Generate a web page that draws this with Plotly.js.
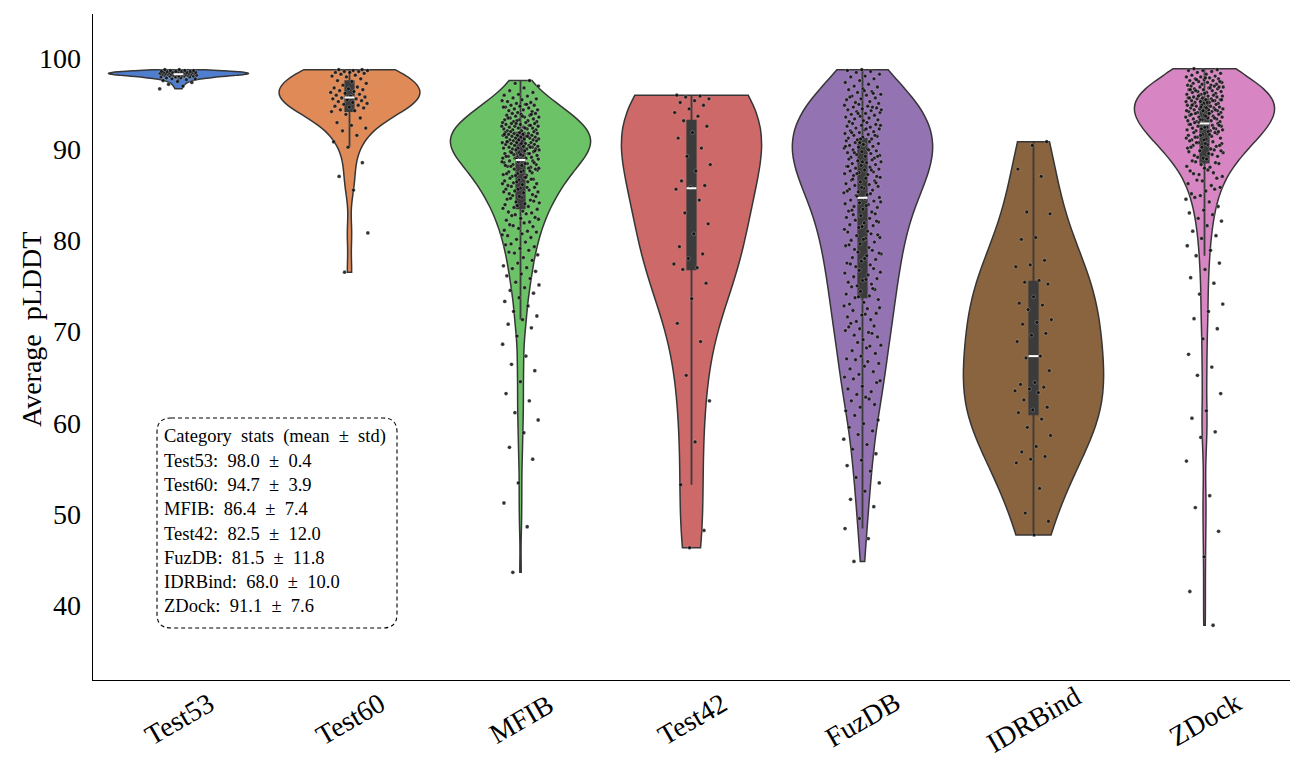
<!DOCTYPE html>
<html>
<head>
<meta charset="utf-8">
<script src="https://cdn.plot.ly/plotly-3.0.1.min.js"></script>
<style>html,body{margin:0;padding:0;background:#fff;}#chart{width:1292px;height:766px;}</style>
</head>
<body>
<div id="chart"></div>
<script>
// ---------------- DATA ----------------
const categories = ['Test53', 'Test60', 'MFIB', 'Test42', 'FuzDB', 'IDRBind', 'ZDock'];

const test53 = [96.6, 96.9, 97.1, 97.3, 97.4, 97.5, 97.6, 97.7, 97.7, 97.8, 97.8, 97.9, 97.9, 97.9,
  98.0, 98.0, 98.0, 98.0, 98.1, 98.1, 98.1, 98.1, 98.1, 98.2, 98.2, 98.2, 98.2, 98.2, 98.2,
  98.3, 98.3, 98.3, 98.3, 98.3, 98.3, 98.3, 98.4, 98.4, 98.4, 98.4, 98.4, 98.4, 98.4,
  98.5, 98.5, 98.5, 98.5, 98.5, 98.6, 98.6, 98.6, 98.7, 98.7];

const test60 = [76.5, 80.8, 85.5, 87.0, 88.5, 90.2, 90.8, 91.5, 92.0, 92.3, 92.6, 92.9, 93.4, 93.8, 94.1,
  94.2, 94.3, 94.5, 94.6, 94.7, 94.8, 94.9, 95.0, 95.1, 95.2, 95.3, 95.4, 95.5, 95.5, 95.6,
  95.7, 95.8, 95.9, 96.0, 96.1, 96.2, 96.3, 96.4, 96.5, 96.6, 96.7, 96.8, 97.0, 97.2, 97.4,
  97.5, 97.7, 97.9, 98.0, 98.1, 98.2, 98.3, 98.4, 98.4, 98.5, 98.5, 98.6, 98.6, 98.7, 98.7];

const mfib = [97.5, 97.2, 96.9, 96.7, 96.4, 96.2, 96.0,
  95.9, 95.8, 95.6, 95.5, 95.4, 95.2, 95.1, 95.0, 95.3,
  94.9, 94.8, 94.8, 94.7, 94.6, 94.5, 94.4, 94.3, 94.3, 94.2, 94.1, 94.0, 94.6, 94.9,
  93.9, 93.9, 93.8, 93.7, 93.7, 93.6, 93.5, 93.5, 93.4, 93.3, 93.2, 93.2, 93.1, 93.0, 93.0, 93.6, 93.4, 93.8, 93.1,
  92.9, 92.9, 92.8, 92.8, 92.7, 92.7, 92.6, 92.5, 92.5, 92.4, 92.4, 92.3, 92.3, 92.2, 92.2, 92.1, 92.1, 92.0, 92.0, 92.6, 92.8, 92.5, 92.3,
  91.9, 91.9, 91.8, 91.8, 91.7, 91.7, 91.7, 91.6, 91.6, 91.5, 91.5, 91.5, 91.4, 91.4, 91.3, 91.3, 91.3, 91.2, 91.2, 91.1, 91.1, 91.0, 91.0, 91.0, 91.6, 91.4,
  90.9, 90.9, 90.8, 90.8, 90.7, 90.7, 90.7, 90.6, 90.6, 90.5, 90.5, 90.5, 90.4, 90.4, 90.3, 90.3, 90.2, 90.2, 90.1, 90.1, 90.0, 90.0, 90.0, 90.6, 90.8, 90.2,
  89.9, 89.9, 89.8, 89.7, 89.7, 89.6, 89.5, 89.5, 89.4, 89.3, 89.3, 89.2, 89.1, 89.1, 89.0, 89.0, 89.6, 89.8, 89.4, 89.2, 89.5, 89.0,
  88.9, 88.8, 88.7, 88.7, 88.6, 88.5, 88.4, 88.3, 88.3, 88.2, 88.1, 88.0, 88.9, 88.6, 88.4, 88.1, 88.5, 88.8, 88.2,
  87.9, 87.8, 87.7, 87.6, 87.5, 87.4, 87.3, 87.2, 87.1, 87.0, 87.8, 87.5, 87.3, 87.6, 87.1, 87.9,
  86.9, 86.8, 86.7, 86.6, 86.5, 86.4, 86.3, 86.2, 86.1, 86.0, 86.7, 86.4, 86.2, 86.9,
  85.9, 85.8, 85.7, 85.6, 85.5, 85.4, 85.3, 85.2, 85.1, 85.0, 85.6, 85.3, 85.8,
  84.9, 84.8, 84.7, 84.5, 84.4, 84.2, 84.1, 84.0, 84.6, 84.3, 84.8,
  83.9, 83.7, 83.6, 83.4, 83.2, 83.1, 83.0, 83.8, 83.5,
  82.9, 82.7, 82.5, 82.4, 82.2, 82.0, 82.8, 82.3,
  81.9, 81.7, 81.5, 81.3, 81.1, 81.0, 81.6,
  80.9, 80.7, 80.5, 80.3, 80.1, 80.6,
  79.8, 79.6, 79.3, 79.1, 79.5,
  78.9, 78.6, 78.4, 78.1, 78.7,
  77.8, 77.5, 77.2, 77.0,
  76.9, 76.6, 76.3, 76.1,
  75.8, 75.4, 75.1,
  74.8, 74.5, 74.2,
  73.7, 73.3, 72.8, 72.2, 71.7, 71.3, 70.8, 70.4,
  69.5, 68.6, 67.3, 66.4, 65.7,
  64.5, 63.2, 62.4, 61.1, 60.3,
  58.9, 57.3, 56.0, 53.4, 51.2, 48.6, 43.6];

const test42 = [95.9, 95.8, 95.7, 95.5, 95.3, 95.1, 94.8, 94.4, 94.0, 93.6,
  93.1, 92.5, 91.8, 91.2, 90.1, 89.2, 88.3, 87.6, 86.5, 86.0,
  85.8, 85.6, 84.4, 83.0, 81.8, 80.7, 79.3, 78.5, 78.0, 77.4,
  77.0, 76.8, 75.3, 73.6, 70.9, 68.9, 65.2, 62.4, 57.9, 53.2, 48.2, 46.3];

const fuzdb = [98.7, 98.6, 98.5, 98.4, 98.2, 98.0, 97.9, 97.7, 97.5, 97.3, 97.1,
  96.9, 96.8, 96.6, 96.5, 96.3, 96.2, 96.0, 95.9, 95.8, 95.6, 95.5, 95.4, 95.2, 95.1, 95.0, 96.4, 95.7, 96.1,
  94.9, 94.8, 94.7, 94.6, 94.5, 94.4, 94.3, 94.2, 94.1, 94.0, 93.9, 93.8, 93.7, 93.6, 93.5, 93.4, 93.3, 93.2, 93.1, 93.0, 94.6, 93.9, 94.3,
  92.9, 92.8, 92.7, 92.6, 92.5, 92.4, 92.3, 92.2, 92.1, 92.0, 91.9, 91.8, 91.7, 91.6, 91.5, 91.4, 91.3, 91.2, 91.1, 91.0, 92.6, 92.2, 91.8, 91.5, 91.1,
  90.9, 90.8, 90.7, 90.6, 90.5, 90.4, 90.3, 90.2, 90.1, 90.0, 89.9, 89.8, 89.7, 89.6, 89.5, 89.4, 89.3, 89.2, 89.1, 89.0, 90.7, 90.3, 89.9, 89.6, 89.2, 90.5,
  88.9, 88.8, 88.7, 88.6, 88.5, 88.4, 88.3, 88.2, 88.1, 88.0, 87.9, 87.8, 87.7, 87.6, 87.5, 87.4, 87.3, 87.2, 87.1, 87.0, 88.6, 88.1, 87.7, 87.3,
  86.9, 86.8, 86.6, 86.5, 86.4, 86.2, 86.1, 86.0, 85.9, 85.7, 85.6, 85.5, 85.3, 85.2, 85.0, 86.7, 86.3, 85.8, 85.4, 85.1,
  84.9, 84.7, 84.6, 84.4, 84.3, 84.1, 84.0, 83.9, 83.7, 83.6, 83.4, 83.2, 83.1, 84.8, 84.2, 83.8, 83.3,
  82.9, 82.7, 82.5, 82.4, 82.2, 82.0, 81.9, 81.7, 81.6, 81.4, 81.2, 81.0, 82.8, 82.1, 81.5,
  80.9, 80.7, 80.5, 80.3, 80.2, 80.0, 79.8, 79.6, 79.4, 79.2, 79.0, 80.6, 80.1, 79.5,
  78.9, 78.7, 78.5, 78.3, 78.1, 77.9, 77.7, 77.5, 77.3, 77.1, 78.6, 78.0, 77.4,
  76.9, 76.7, 76.4, 76.2, 76.0, 75.8, 75.6, 75.4, 75.2, 75.0, 76.5, 75.7,
  74.9, 74.6, 74.4, 74.1, 73.9, 73.7, 73.5, 73.2, 73.0, 74.7, 73.8,
  72.8, 72.5, 72.3, 72.0, 71.8, 71.6, 71.3, 71.1, 72.6, 71.9,
  70.9, 70.6, 70.3, 70.1, 69.9, 69.6, 69.4, 69.1, 70.5, 69.8,
  68.8, 68.5, 68.2, 67.9, 67.6, 67.3, 67.0, 68.4,
  66.9, 66.5, 66.2, 65.9, 65.6, 65.3, 65.0, 66.7,
  64.8, 64.4, 64.0, 63.7, 63.4, 63.1, 64.6,
  62.8, 62.4, 62.0, 61.7, 61.3, 62.6,
  60.8, 60.3, 59.9, 59.5, 59.1,
  58.7, 58.2, 57.6, 57.1, 56.6, 55.9, 55.3,
  54.7, 54.0, 53.4, 52.5, 51.6, 50.8, 49.5, 48.4, 47.3, 44.8];

const idrbind = [90.8, 90.4, 87.8, 87.0, 83.1, 82.9, 80.3, 80.1, 77.8, 77.3,
  77.1, 75.6, 75.4, 75.2, 73.8, 73.1, 72.9, 72.4, 71.3, 71.0,
  70.8, 69.8, 69.6, 68.9, 67.3, 67.1, 65.7, 64.4, 64.2, 63.9,
  63.7, 63.5, 63.3, 62.5, 61.7, 61.4, 61.1, 60.4, 59.5, 58.6,
  57.4, 56.8, 56.3, 56.0, 55.6, 52.8, 50.1, 49.2, 47.7];

const zdock = [98.8, 98.7, 98.6, 98.6, 98.5, 98.4, 98.3, 98.2, 98.1, 98.0,
  97.9, 97.9, 97.8, 97.7, 97.7, 97.6, 97.5, 97.5, 97.4, 97.3, 97.3, 97.2, 97.1, 97.1, 97.0, 97.0, 97.6, 97.4, 97.8,
  96.9, 96.9, 96.8, 96.8, 96.7, 96.6, 96.6, 96.5, 96.5, 96.4, 96.3, 96.3, 96.2, 96.2, 96.1, 96.0, 96.0, 96.7, 96.4, 96.8, 96.1, 96.5,
  95.9, 95.9, 95.8, 95.8, 95.7, 95.7, 95.6, 95.6, 95.5, 95.5, 95.4, 95.4, 95.3, 95.3, 95.2, 95.2, 95.1, 95.1, 95.0, 95.0, 95.6, 95.3, 95.8, 95.4, 95.1,
  94.9, 94.9, 94.8, 94.8, 94.7, 94.7, 94.6, 94.6, 94.5, 94.5, 94.4, 94.4, 94.3, 94.3, 94.2, 94.2, 94.1, 94.1, 94.0, 94.0, 94.5, 94.8, 94.3, 94.6, 94.2,
  93.9, 93.9, 93.8, 93.7, 93.7, 93.6, 93.5, 93.5, 93.4, 93.3, 93.3, 93.2, 93.1, 93.1, 93.0, 93.0, 93.6, 93.8, 93.4, 93.2, 93.5, 93.9,
  92.9, 92.8, 92.8, 92.7, 92.6, 92.5, 92.5, 92.4, 92.3, 92.2, 92.2, 92.1, 92.0, 92.0, 92.6, 92.4, 92.7, 92.3, 92.9, 92.1,
  91.9, 91.8, 91.7, 91.6, 91.5, 91.4, 91.3, 91.2, 91.1, 91.0, 91.8, 91.5, 91.2, 91.6, 91.3, 91.9, 91.0,
  90.9, 90.8, 90.7, 90.6, 90.5, 90.4, 90.3, 90.2, 90.1, 90.0, 90.7, 90.4, 90.6, 90.2,
  89.9, 89.8, 89.6, 89.5, 89.3, 89.2, 89.0, 89.7, 89.4, 89.1, 89.8,
  88.9, 88.7, 88.5, 88.3, 88.1, 88.0, 88.6, 88.4,
  87.9, 87.6, 87.4, 87.2, 87.0, 87.7, 87.3,
  86.8, 86.5, 86.2, 86.0, 86.6,
  85.8, 85.4, 85.1, 85.6, 84.9, 84.5, 84.2, 84.7,
  83.7, 83.3, 83.0, 82.8, 82.4, 82.1,
  81.6, 81.0, 80.5, 80.2, 79.4, 78.9, 78.3,
  77.5, 76.8, 75.9, 75.3, 74.1, 73.0, 72.2, 71.4, 70.3,
  69.2, 67.5, 66.1, 65.2, 63.2, 61.3, 60.5, 59.0, 58.4, 55.8,
  52.0, 50.7, 48.1, 45.3, 41.5, 37.8];

const seriesValues = [test53, test60, mfib, test42, fuzdb, idrbind, zdock];

// stats shown in the legend box
const statMeans = [98.0, 94.7, 86.4, 82.5, 81.5, 68.0, 91.1];
const statStds = [0.4, 3.9, 7.4, 12.0, 11.8, 10.0, 7.6];

const yTicks = [40, 50, 60, 70, 80, 90, 100];
const yTitle = 'Average\u00a0 pLDDT';

// ---------------- STYLE ----------------
const fillColors = ['#4f7ecf', '#e08a57', '#6cc267', '#cd6a69', '#9473b2', '#8a633f', '#d886c3'];
const bandwidths = [0.18, 1.7, 1.8, 5.7, 3.1, 5.2, 2.2];
const FONT = 'Liberation Serif, Times New Roman, serif';

function median(arr) {
  const s = arr.slice().sort((a, b) => a - b);
  const n = s.length;
  return n % 2 ? s[(n - 1) / 2] : (s[n / 2 - 1] + s[n / 2]) / 2;
}

const traces = [];
categories.forEach((c, i) => {
  traces.push({
    type: 'violin',
    name: c,
    x0: i,
    y: seriesValues[i],
    fillcolor: fillColors[i],
    line: {color: '#363636', width: 1.5},
    opacity: 1,
    points: false,
    spanmode: 'hard',
    bandwidth: bandwidths[i],
    width: 0.82,
    scalemode: 'width',
    box: {visible: true, width: 0.06, fillcolor: '#3b3b3b', line: {color: '#3b3b3b', width: 1.8}},
    meanline: {visible: false},
    hoverinfo: 'skip',
    showlegend: false
  });
});

// jittered strip points (deterministic spread, like a strip plot)
const px = [], py = [];
seriesValues.forEach((vals, i) => {
  vals.forEach((v, k) => {
    const frac = (k * 0.6180339887 + 0.37 * i) % 1;
    px.push(i + (frac - 0.5) * 0.22);
    py.push(v);
  });
});
traces.push({
  type: 'scatter', mode: 'markers', x: px, y: py,
  marker: {size: 3.8, color: 'rgba(12,12,12,0.85)', line: {width: 0.5, color: 'rgba(255,255,255,0.5)'}},
  hoverinfo: 'skip', showlegend: false
});

// medians (white marks)
traces.push({
  type: 'scatter', mode: 'markers',
  x: categories.map((c, i) => i),
  y: seriesValues.map(median),
  marker: {symbol: 'line-ew', size: 7, line: {width: 2, color: 'white'}},
  hoverinfo: 'skip', showlegend: false
});

// plot area in px: x 93..1290, y 14..680
const L = 93, R = 1290, T = 14, B = 680;
const pxX = x => (x - L) / (R - L);
const pxY = y => (B - y) / (B - T);

const annotations = [];
categories.forEach((c, i) => {
  annotations.push({
    text: c, x: i, xref: 'x', y: pxY(719), yref: 'paper',
    xanchor: 'center', yanchor: 'middle', textangle: -30, showarrow: false,
    font: {family: FONT, size: 28, color: '#000'}
  });
});

// y-axis title
annotations.push({
  text: yTitle, x: pxX(31), xref: 'paper', y: pxY(330), yref: 'paper',
  xanchor: 'center', yanchor: 'middle', textangle: -90, showarrow: false,
  font: {family: FONT, size: 28, color: '#000'}
});

const statLines = ['Category\u00a0 stats\u00a0 (mean\u00a0 \u00b1\u00a0 std)'].concat(
  categories.map((c, i) => c + ':\u00a0 ' + statMeans[i].toFixed(1) + '\u00a0 \u00b1\u00a0 ' + statStds[i].toFixed(1)));
statLines.forEach((t, j) => {
  annotations.push({
    text: t, x: pxX(162), xref: 'paper', y: pxY(437 + j * 24.15), yref: 'paper',
    xanchor: 'left', yanchor: 'middle', showarrow: false,
    font: {family: FONT, size: 18.5, color: '#000'}
  });
});

// rounded dashed box
const bx0 = pxX(157), bx1 = pxX(397), by0 = pxY(628), by1 = pxY(418);
const rx = 14 / (R - L), ry = 14 / (B - T);
const boxPath = `M ${bx0 + rx} ${by1} L ${bx1 - rx} ${by1} Q ${bx1} ${by1} ${bx1} ${by1 - ry} L ${bx1} ${by0 + ry} Q ${bx1} ${by0} ${bx1 - rx} ${by0} L ${bx0 + rx} ${by0} Q ${bx0} ${by0} ${bx0} ${by0 + ry} L ${bx0} ${by1 - ry} Q ${bx0} ${by1} ${bx0 + rx} ${by1} Z`;

const layout = {
  width: 1292, height: 766,
  margin: {l: L, r: 1292 - R, t: T, b: 766 - B, pad: 0},
  paper_bgcolor: '#fff', plot_bgcolor: '#fff',
  showlegend: false,
  violinmode: 'overlay',
  hovermode: false,
  font: {family: FONT, color: '#000'},
  xaxis: {
    range: [-0.5, 6.5], showticklabels: false, ticks: '', showgrid: false, zeroline: false,
    showline: true, linecolor: '#000', linewidth: 1.3
  },
  yaxis: {
    range: [31.8, 104.8], tickvals: yTicks, ticktext: yTicks.map(String),
    ticks: 'outside', ticklen: 5, tickcolor: 'rgba(0,0,0,0)',
    tickfont: {family: FONT, size: 28, color: '#000'},
    showgrid: false, zeroline: false, showline: true, linecolor: '#000', linewidth: 1.3
  },
  shapes: [{
    type: 'path', xref: 'paper', yref: 'paper', path: boxPath,
    line: {color: '#000', width: 1.1, dash: '4px,3px'}, fillcolor: 'rgba(0,0,0,0)'
  }],
  annotations: annotations
};

Plotly.newPlot('chart', traces, layout, {displayModeBar: false, staticPlot: true});
</script>
</body>
</html>
